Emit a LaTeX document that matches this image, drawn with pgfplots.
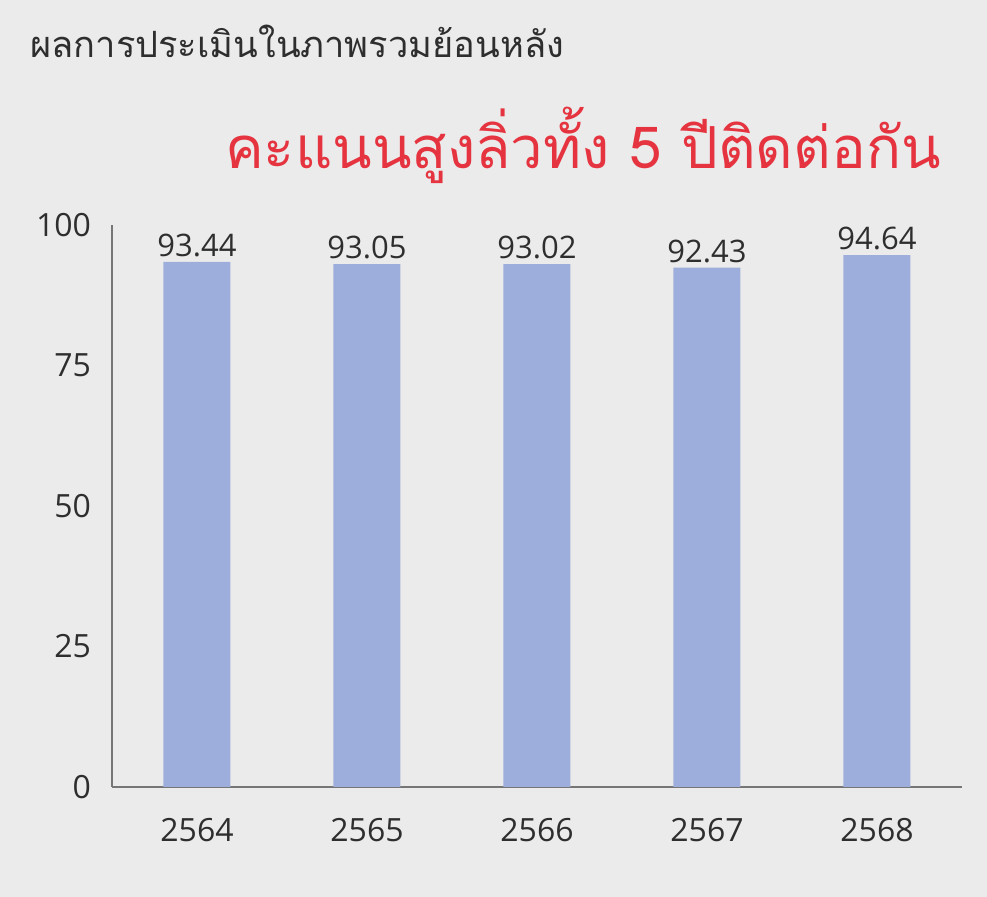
\documentclass[border=0pt]{standalone}
\usepackage{fontspec}
\setmainfont{Open Sans}
\newfontfamily\thaifont[Script=Thai]{Loma}
\usepackage{pgfplots}
\pgfplotsset{compat=1.18}

\definecolor{bg}{HTML}{EBEBEB}
\definecolor{barblue}{HTML}{9DADDC}
\definecolor{axisgray}{HTML}{767676}
\definecolor{txt}{HTML}{2E2E2E}
\definecolor{pen}{HTML}{E5343F}

\pgfplotstableread{
x year score
0 2564 93.44
1 2565 93.05
2 2566 93.02
3 2567 92.43
4 2568 94.64
}\scores

\begin{document}
\begin{tikzpicture}
% 1 px of the reference = 0.5pt
\fill[bg] (0,0) rectangle (493.5pt,448.5pt);
\useasboundingbox (0,0) rectangle (493.5pt,448.5pt);
\node[anchor=west, text=txt, font=\thaifont\fontsize{18.1}{22}\selectfont, inner sep=0pt]
  at (15pt,428pt) {ผลการประเมินในภาพรวมย้อนหลัง};
\node[anchor=center, text=pen, font=\thaifont\fontsize{29}{32}\selectfont, inner sep=0pt]
  at (291.5pt,376pt) {คะแนนสูงลิ่วทั้ง 5 ปีติดต่อกัน};
\begin{axis}[
  at={(56pt,55pt)}, anchor=south west,
  scale only axis, width=425pt, height=281pt,
  axis x line=bottom, axis y line=left,
  axis line style={-, axisgray, line width=1pt},
  xmin=-0.5, xmax=4.5, ymin=0, ymax=100,
  xtick=data, xticklabels={2564,2565,2566,2567,2568},
  ytick={0,25,50,75,100},
  major tick length=0pt,
  /pgf/number format/assume math mode=true,
  /pgf/number format/set thousands separator={},
  tick label style={font=\fontsize{16}{19}\selectfont, text=txt},
  xticklabel style={yshift=-12pt},
  yticklabel style={xshift=-7pt},
  ybar, bar width=33.5pt,
  nodes near coords={\pgfmathprintnumber[fixed,fixed zerofill,precision=2,assume math mode=true]{\pgfplotspointmeta}},
  every node near coord/.append style={font=\fontsize{15.5}{18}\selectfont, text=txt, yshift=-1pt},
]
\addplot[fill=barblue, draw=none] table[x=x, y=score] {\scores};
\end{axis}
\end{tikzpicture}
\end{document}
